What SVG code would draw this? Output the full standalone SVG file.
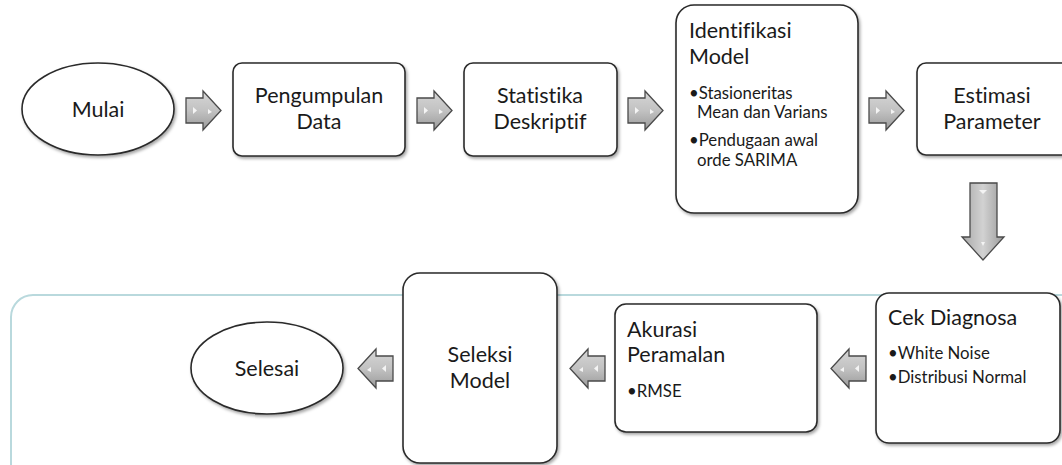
<svg xmlns="http://www.w3.org/2000/svg" width="1062" height="465" viewBox="0 0 1062 465">
<defs>
<filter id="sh" x="-10%" y="-10%" width="130%" height="130%">
<feDropShadow dx="1.5" dy="2" stdDeviation="1.5" flood-color="#000" flood-opacity="0.35"/>
</filter>
<linearGradient id="ag" x1="0" y1="0" x2="0" y2="1">
<stop offset="0" stop-color="#d6d6d6"/>
<stop offset="0.5" stop-color="#c2c2c2"/>
<stop offset="1" stop-color="#9a9a9a"/>
</linearGradient>
<linearGradient id="agv" x1="0" y1="0" x2="1" y2="0">
<stop offset="0" stop-color="#a8a8a8"/>
<stop offset="0.5" stop-color="#d2d2d2"/>
<stop offset="1" stop-color="#9a9a9a"/>
</linearGradient>
<path id="ar" d="M0,7 H17 V0 L35,19.5 L17,39 V32 H0 Z"/>
<path id="al" d="M35,7 H18 V0 L0,19.5 L18,39 V32 H35 Z"/>
</defs>
<style>
.box{fill:#fff;stroke:#2a2a2a;stroke-width:1.6;filter:url(#sh)}
.t{font-family:Lato,"Open Sans",sans-serif;font-size:21.5px;fill:#1a1a1a;font-variant-ligatures:none}
.c{text-anchor:middle}
.s{font-family:Lato,"Open Sans",sans-serif;font-size:16.8px;fill:#1a1a1a;font-variant-ligatures:none}
.arr{fill:url(#ag);stroke:#4a4a4a;stroke-width:1.3}
.nt{fill:#f4f4f4}
</style>
<rect width="1062" height="465" fill="#fff"/>
<g id="frame">
<rect x="11" y="295" width="1100" height="220" rx="22" fill="none" stroke="#b9d9dd" stroke-width="2"/>
</g>
<g id="connectors">
<g transform="translate(186,91)"><use href="#ar" class="arr"/><path class="nt" d="M7,16 L11,19.5 L7,23 Z"/><path class="nt" d="M22,18 L26,21 L22,23 Z"/></g>
<g transform="translate(417,91)"><use href="#ar" class="arr"/><path class="nt" d="M7,16 L11,19.5 L7,23 Z"/><path class="nt" d="M22,18 L26,21 L22,23 Z"/></g>
<g transform="translate(628,91)"><use href="#ar" class="arr"/><path class="nt" d="M7,16 L11,19.5 L7,23 Z"/><path class="nt" d="M22,18 L26,21 L22,23 Z"/></g>
<g transform="translate(869,91)"><use href="#ar" class="arr"/><path class="nt" d="M7,16 L11,19.5 L7,23 Z"/><path class="nt" d="M22,18 L26,21 L22,23 Z"/></g>
<g transform="translate(962,183)"><path d="M8,0 H35 V54 H42 L21,77 L0,54 H8 Z" fill="url(#agv)" stroke="#4a4a4a" stroke-width="1.3"/><path class="nt" d="M17,7 L25,7 L21,11 Z"/><path class="nt" d="M19,59 L23,59 L21,63 Z"/></g>
<g transform="translate(831,349)"><use href="#al" class="arr"/><path class="nt" d="M28,16 L24,19.5 L28,23 Z"/><path class="nt" d="M13,18 L9,21 L13,23 Z"/></g>
<g transform="translate(570,349)"><use href="#al" class="arr"/><path class="nt" d="M28,16 L24,19.5 L28,23 Z"/><path class="nt" d="M13,18 L9,21 L13,23 Z"/></g>
<g transform="translate(358,349)"><use href="#al" class="arr"/><path class="nt" d="M28,16 L24,19.5 L28,23 Z"/><path class="nt" d="M13,18 L9,21 L13,23 Z"/></g>
</g>
<g id="mulai">
<ellipse class="box" cx="98" cy="109" rx="76" ry="46"/>
<text class="t c" x="98" y="117">Mulai</text>
</g>
<g id="pengumpulan">
<rect class="box" x="233" y="63" width="172" height="93" rx="9"/>
<text class="t c" x="319" y="103">Pengumpulan</text>
<text class="t c" x="319" y="129">Data</text>
</g>
<g id="statistika">
<rect class="box" x="464" y="63" width="153" height="93" rx="9"/>
<text class="t c" x="540" y="103">Statistika</text>
<text class="t c" x="540" y="129">Deskriptif</text>
</g>
<g id="identifikasi">
<rect class="box" x="676" y="5" width="182" height="208" rx="18"/>
<text class="t" x="689" y="38">Identifikasi</text>
<text class="t" x="689" y="64">Model</text>
<text class="s" x="689" y="99">•Stasioneritas</text>
<text class="s" x="697" y="118">Mean dan Varians</text>
<text class="s" x="689" y="146">•Pendugaan awal</text>
<text class="s" x="697" y="166">orde SARIMA</text>
</g>
<g id="estimasi">
<rect class="box" x="917" y="63" width="160" height="92" rx="9"/>
<text class="t c" x="992" y="103">Estimasi</text>
<text class="t c" x="992" y="129">Parameter</text>
</g>
<g id="cek">
<rect class="box" x="876" y="293" width="184" height="150" rx="13"/>
<text class="t" x="888" y="325">Cek Diagnosa</text>
<text class="s" x="888" y="359">•White Noise</text>
<text class="s" x="888" y="383">•Distribusi Normal</text>
</g>
<g id="akurasi">
<rect class="box" x="615" y="304" width="202" height="128" rx="11"/>
<text class="t" x="627" y="337">Akurasi</text>
<text class="t" x="627" y="362">Peramalan</text>
<text class="s" x="627" y="397">•RMSE</text>
</g>
<g id="seleksi">
<rect class="box" x="403" y="273" width="154" height="190" rx="17"/>
<text class="t c" x="480" y="362">Seleksi</text>
<text class="t c" x="480" y="388">Model</text>
</g>
<g id="selesai">
<ellipse class="box" cx="267" cy="368" rx="76" ry="46"/>
<text class="t c" x="267" y="376">Selesai</text>
</g>
</svg>
